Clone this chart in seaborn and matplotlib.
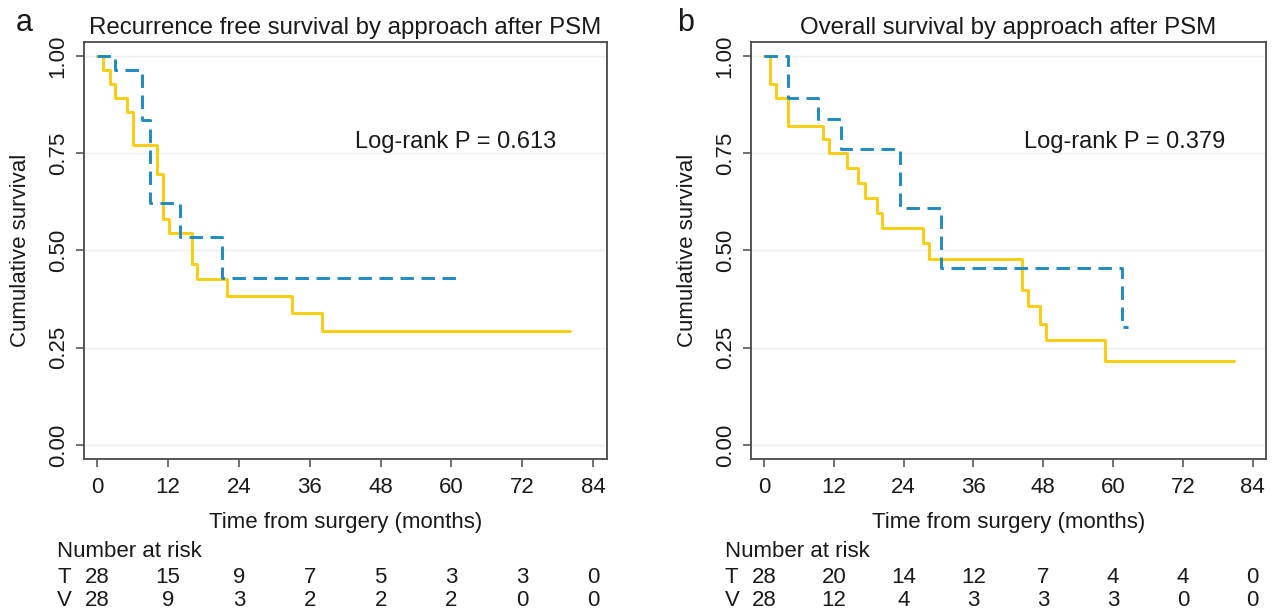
import numpy as np
import pandas as pd
import matplotlib
matplotlib.use("Agg")
import matplotlib.pyplot as plt
import matplotlib.transforms as mtransforms
import seaborn as sns

# DATI
month_ticks = [0, 12, 24, 36, 48, 60, 72, 84]
surv_ticks = [0.0, 0.25, 0.5, 0.75, 1.0]

rfs_t_time = [0, 1.0, 2.15, 3.0, 5.0, 6.0, 10.2, 11.1, 12.1, 16.0, 16.9, 21.9, 33.0, 38.0, 80.0]
rfs_t_surv = [1.0, 0.964, 0.929, 0.893, 0.857, 0.771, 0.696, 0.580, 0.544, 0.466, 0.427, 0.384, 0.339, 0.292, 0.292]
rfs_v_time = [0, 3.0, 7.5, 8.9, 14.0, 21.1, 61.9]
rfs_v_surv = [1.0, 0.964, 0.835, 0.623, 0.535, 0.428, 0.428]

os_t_time = [0, 1.0, 2.1, 4.2, 10.1, 11.2, 14.2, 16.2, 17.4, 19.4, 20.3, 27.3, 28.4, 44.4, 45.4, 47.5, 48.5, 58.6, 80.8]
os_t_surv = [1.0, 0.929, 0.893, 0.821, 0.786, 0.750, 0.711, 0.674, 0.636, 0.597, 0.557, 0.518, 0.477, 0.398, 0.358, 0.312, 0.269, 0.215, 0.215]
os_v_time = [0, 4.1, 9.2, 13.2, 23.3, 30.4, 61.6, 62.5]
os_v_surv = [1.0, 0.893, 0.838, 0.762, 0.608, 0.455, 0.303, 0.303]

risk_rfs_t = [28, 15, 9, 7, 5, 3, 3, 0]
risk_rfs_v = [28, 9, 3, 2, 2, 2, 0, 0]
risk_os_t = [28, 20, 14, 12, 7, 4, 4, 0]
risk_os_v = [28, 12, 4, 3, 3, 3, 0, 0]

titles = ["Recurrence free survival by approach after PSM", "Overall survival by approach after PSM"]
pvals = ["Log-rank P = 0.613", "Log-rank P = 0.379"]
panel_letters = ["a", "b"]

YELLOW = "#FACD0F"
BLUE = "#1E8BC2"
DARK = "#4a4a4a"
TXT = "#1a1a1a"

sns.set_theme(style="white")
plt.rcParams['font.family'] = ['Liberation Sans', 'DejaVu Sans']

fig = plt.figure(figsize=(12.8, 6.16), dpi=100)
ax_a = fig.add_axes([0.0656, 0.2549, 0.4083, 0.677])
ax_b = fig.add_axes([0.5867, 0.2549, 0.4023, 0.677])

panels = [
    (ax_a, rfs_t_time, rfs_t_surv, rfs_v_time, rfs_v_surv, risk_rfs_t, risk_rfs_v, 60.7),
    (ax_b, os_t_time, os_t_surv, os_v_time, os_v_surv, risk_os_t, risk_os_v, 61.9),
]

for i, (ax, tt, ts, vt, vs, rt, rv, px) in enumerate(panels):
    for y in surv_ticks:
        ax.axhline(y, color="#efefef", lw=1.0, zorder=0)
    sns.lineplot(x=tt, y=ts, ax=ax, color=YELLOW, lw=2.1, drawstyle="steps-post",
                 estimator=None, sort=False)
    sns.lineplot(x=vt, y=vs, ax=ax, color=BLUE, lw=2.1, drawstyle="steps-post",
                 estimator=None, sort=False, linestyle=(0, (4.6, 2.6)))

    ax.set_xlim(-2.25, 86.27)
    ax.set_ylim(-0.036, 1.036)
    ax.set_xticks(month_ticks)
    ax.set_yticks(surv_ticks)
    ax.set_yticklabels([f"{v:.2f}" for v in surv_ticks])
    ax.tick_params(axis="both", labelsize=16, length=6, width=1.1, color=DARK,
                   labelcolor=TXT, direction="out", bottom=True, left=True)
    ax.tick_params(axis="x", pad=7)
    ax.tick_params(axis="y", labelrotation=90, pad=5)
    for lab in ax.get_yticklabels():
        lab.set_va("center")
    for sp in ax.spines.values():
        sp.set_visible(True)
        sp.set_color(DARK)
        sp.set_linewidth(1.3)

    ax.set_xlabel("Time from surgery (months)", fontsize=16, labelpad=10, color=TXT)
    ax.set_ylabel("Cumulative survival", fontsize=16, labelpad=12, color=TXT)
    ax.set_title(titles[i], fontsize=17.3, pad=6, color=TXT)
    ax.text(px, 0.779, pvals[i], fontsize=17, ha="center", va="center", color=TXT)

    # tabella numero a rischio
    trans = mtransforms.blended_transform_factory(ax.transData, fig.transFigure)
    ax.text(-6.8, 0.1055, "Number at risk", transform=trans, fontsize=16,
            ha="left", va="center", color=TXT)
    ax.text(-6.8, 0.0633, "T", transform=trans, fontsize=16, ha="left", va="center", color=TXT)
    ax.text(-6.8, 0.0244, "V", transform=trans, fontsize=16, ha="left", va="center", color=TXT)
    for m, a, b in zip(month_ticks, rt, rv):
        ax.text(m, 0.0633, str(a), transform=trans, fontsize=16, ha="center", va="center", color=TXT)
        ax.text(m, 0.0244, str(b), transform=trans, fontsize=16, ha="center", va="center", color=TXT)

fig.text(16 / 1280, 1 - 31 / 616, panel_letters[0], fontsize=22, ha="left", va="baseline", color=TXT)
fig.text(677 / 1280, 1 - 31 / 616, panel_letters[1], fontsize=22, ha="left", va="baseline", color=TXT)

fig.savefig("out.png", dpi=100)
